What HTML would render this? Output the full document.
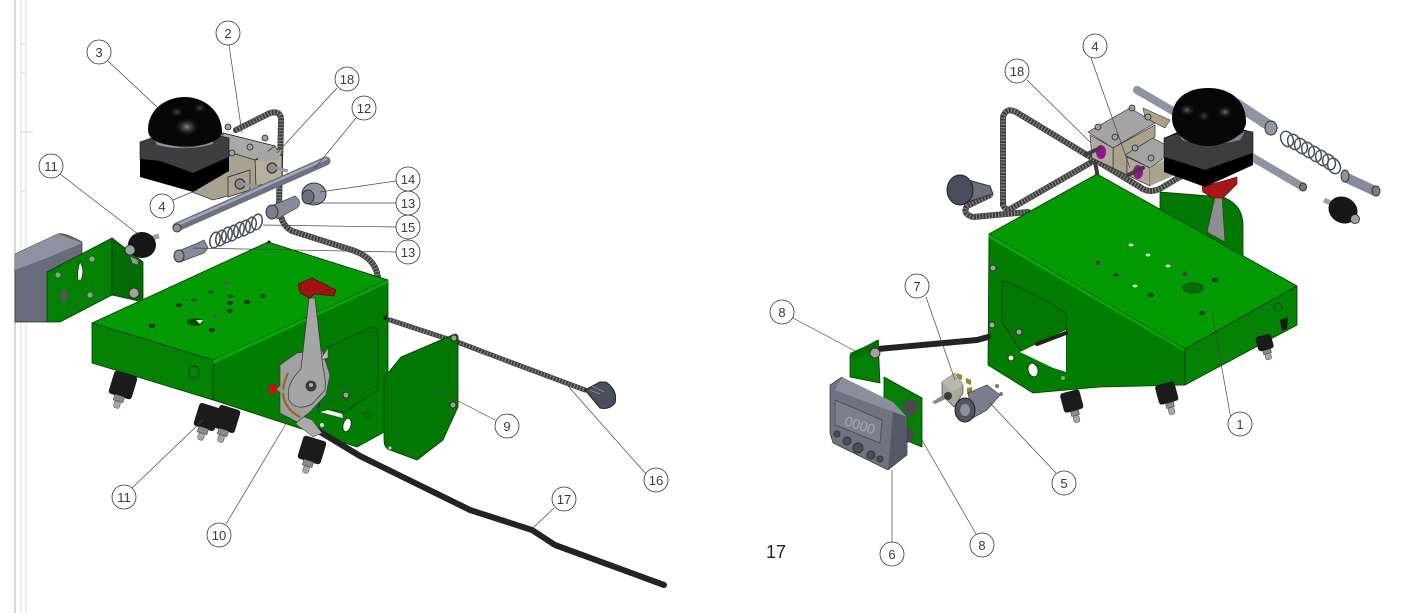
<!DOCTYPE html>
<html><head><meta charset="utf-8"><style>
html,body{margin:0;padding:0;background:#fff}
svg{display:block}
text{font-family:"Liberation Sans",sans-serif;font-size:13px;fill:#3a3a3a;text-anchor:middle}
.b circle{fill:#fff;stroke:#333;stroke-width:.8}
.l{stroke:#444;stroke-width:.7;fill:none}
.e{stroke:#013a01;stroke-width:.8;stroke-linejoin:round}
.c1{fill:none;stroke:#3e3e3e;stroke-width:6;stroke-linecap:round;stroke-linejoin:round}
.c2{fill:none;stroke:#858585;stroke-width:5;stroke-dasharray:1.2 2}
.k{fill:none;stroke:#232323;stroke-width:6;stroke-linecap:round;stroke-linejoin:round}
.s{fill:none;stroke:#4a4e5c;stroke-width:1.5}
.h{fill:#04340a}
.ft{fill:#1b1b1b}.bt{fill:#a4a8b6;stroke:#444;stroke-width:.5}.nt{fill:#8b8b8b;stroke:#333;stroke-width:.5}
.nut{fill:#a0a0a0;stroke:#222;stroke-width:.8}
</style></head><body>
<svg width="1405" height="613" viewBox="0 0 1405 613" xmlns="http://www.w3.org/2000/svg">
<defs>
<radialGradient id="hl" cx=".5" cy=".5" r=".5"><stop offset="0" stop-color="#8a8a8a"/><stop offset="1" stop-color="#000" stop-opacity="0"/></radialGradient>
</defs>
<rect width="1405" height="613" fill="#fff"/>
<path d="M15 0V613" stroke="#c9c9c9" stroke-width="1.5" fill="none"/>
<path d="M21 0V613M26 0V613" stroke="#dcdcdc" stroke-width="1" fill="none"/>
<path d="M21 44H26M21 73H26M21 132H33M21 191H26" stroke="#d4d4d4" fill="none"/>

<!-- LEFT ASSEMBLY -->
<!-- conduit upper -->
<path class="c1" d="M236 130L270 113Q282 110 281 122L279 205Q280 225 292 231L352 250Q376 258 378 278"/>
<path class="c2" d="M236 130L270 113Q282 110 281 122L279 205Q280 225 292 231L352 250Q376 258 378 278"/>
<!-- blocks -->
<path d="M223 133L275 146L282 157V180L262 187L250 190L213 200L192 192L190 160Z" fill="#a8a390" stroke="#333" stroke-width=".7"/>
<path d="M223 133L275 146L255 160L222 150Z" fill="#a9a9a9" stroke="#222" stroke-width=".7"/>
<path d="M255 160L282 155L282 180L256 186Z" fill="#b5b09f" stroke="#222" stroke-width=".7"/>
<path d="M228 177L250 170L250 190L228 197Z" fill="#aaa593" stroke="#222" stroke-width=".7"/>
<path d="M258 152L282 150L278 160L258 162Z" fill="#a4a4a4"/>
<circle cx="272" cy="168" r="5" fill="#8e8e8e" stroke="#222"/><circle cx="240" cy="184" r="5" fill="#8e8e8e" stroke="#222"/>
<path d="M276 168L288 171M243 184L258 187" stroke="#999" stroke-width="3"/>
<circle cx="228" cy="127" r="3" class="nut"/><circle cx="250" cy="147" r="3" class="nut"/><circle cx="265" cy="138" r="3" class="nut"/><circle cx="232" cy="153" r="3" class="nut"/>
<!-- dome assembly -->
<path d="M140 142L180 128L229 138V171L193 192L140 177Z" fill="#000"/>
<path d="M140 142L180 128L229 138V157L193 173L160 161L140 159Z" fill="#3e3e3e" stroke="#111" stroke-width=".6"/>
<path d="M154 138Q185 156 213 140L213 144Q185 152 157 145Z" fill="#8d91a0"/>
<path d="M148 130C148 110 165 97 185 97C205 97 222 112 222 132C222 140 205 147 185 146C165 146 148 142 148 130Z" fill="#060606"/>
<ellipse cx="187" cy="127" rx="13" ry="10" fill="url(#hl)"/><ellipse cx="177" cy="112" rx="8" ry="6" fill="url(#hl)" opacity=".5"/><ellipse cx="200" cy="108" rx="8" ry="6" fill="url(#hl)" opacity=".5"/>
<!-- rod -->
<path d="M177 227L326 161" stroke="#6d7181" stroke-width="9" stroke-linecap="round"/>
<path d="M177 225L326 159" stroke="#a4a8b6" stroke-width="2.5" stroke-linecap="round"/>
<ellipse cx="177" cy="228" rx="4" ry="4" fill="#8c909f" stroke="#333"/>
<!-- 14 nut -->
<ellipse cx="314" cy="194" rx="12" ry="11" fill="#8f93a2" stroke="#333"/><ellipse cx="308" cy="197" rx="6" ry="7" fill="#6d7181" stroke="#333"/>
<!-- bushing 13 upper -->
<path d="M271 206L295 196Q303 202 297 208L277 219Z" fill="#868a9a" stroke="#444" stroke-width=".7"/>
<ellipse cx="272" cy="212" rx="6" ry="7" fill="#7a7e8c" stroke="#333"/>
<!-- spring -->
<g class="s"><ellipse cx="215" cy="240" rx="5" ry="8" transform="rotate(15 215 240)"/><ellipse cx="221" cy="238" rx="5" ry="8" transform="rotate(15 221 238)"/><ellipse cx="227" cy="235" rx="5" ry="8" transform="rotate(15 227 235)"/><ellipse cx="233" cy="233" rx="5" ry="8" transform="rotate(15 233 233)"/><ellipse cx="239" cy="230" rx="5" ry="8" transform="rotate(15 239 230)"/><ellipse cx="245" cy="228" rx="5" ry="8" transform="rotate(15 245 228)"/><ellipse cx="251" cy="225" rx="5" ry="8" transform="rotate(15 251 225)"/><ellipse cx="257" cy="222" rx="5" ry="8" transform="rotate(15 257 222)"/></g>
<!-- bushing 13 lower -->
<path d="M176 252L198 243L204 240L208 248L204 253L180 262Z" fill="#868a9a" stroke="#444" stroke-width=".7"/>
<ellipse cx="179" cy="256" rx="5" ry="6" fill="#8c909f" stroke="#333"/>
<!-- device left -->
<path d="M15 254L58 234Q64 232 82 242V262L83 300L47 322H15Z" fill="#686b7a" stroke="#333" stroke-width=".7"/>
<path d="M15 254L58 234L82 243L47 258L15 270Z" fill="#8f92a0"/>
<!-- bracket -->
<path d="M47 272L112 238V295L60 322H47Z" fill="#048004" class="e"/>
<path d="M112 238L143 262V302L112 295Z" fill="#036b03" class="e"/>
<path d="M80 262Q85 270 81 280L78 280Q77 270 80 262Z" fill="#fff" stroke="#222" stroke-width=".6"/>
<ellipse cx="64" cy="295" rx="4" ry="6" fill="#555"/><circle cx="58" cy="275" r="2.5" fill="#999"/><circle cx="92" cy="259" r="2.5" fill="#999"/><circle cx="90" cy="295" r="2.5" fill="#999"/>
<circle cx="134" cy="293" r="5" class="nut"/>
<!-- mount 11 top -->
<path d="M152 238L159 236" stroke="#9da1af" stroke-width="5"/>
<ellipse cx="142" cy="245" rx="14" ry="13" fill="#171717"/>
<circle cx="130" cy="250" r="5" class="nut"/><path d="M130 256L138 260V265L132 263Z" fill="#999" stroke="#333" stroke-width=".5"/>
<!-- green main box -->
<path d="M92 323L268 242L388 280L213 360Z" fill="#049a04" class="e"/>
<path d="M92 323L213 360V400L92 363Z" fill="#038203" class="e"/>
<path d="M213 360L388 280V430L357 447L213 400Z" fill="#027d02" class="e"/>
<path d="M213 360L388 280L388 283L213 364Z" fill="#05a805"/>
<ellipse cx="194" cy="372" rx="5" ry="6" fill="none" stroke="#024402"/>
<circle cx="269" cy="242" r="1.5" fill="#111"/>
<!-- holes top -->
<ellipse cx="195" cy="322" rx="8" ry="4" fill="#024f02"/><path d="M196 320h7l-3 4z" fill="#fff"/>
<ellipse cx="152" cy="326" rx="3" ry="2" class="h"/><ellipse cx="179" cy="305" rx="3" ry="2" class="h"/><ellipse cx="212" cy="330" rx="3" ry="2" class="h"/><ellipse cx="230" cy="303" rx="3" ry="2" class="h"/><ellipse cx="231" cy="296" rx="3" ry="1.5" fill="#024f02"/><ellipse cx="194" cy="300" rx="3" ry="1.5" fill="#024f02"/><ellipse cx="211" cy="292" rx="3" ry="1.5" fill="#024f02"/><ellipse cx="230" cy="311" rx="3" ry="2" class="h"/><ellipse cx="263" cy="296" rx="3" ry="2" fill="#024f02"/><ellipse cx="247" cy="302" rx="3" ry="2" class="h"/><circle cx="226" cy="283" r="2" fill="#555"/><circle cx="215" cy="316" r="2" fill="#555"/>
<!-- cutout on right face -->
<path d="M328 347L372 327Q379 327 378 335V390L345 412L330 410L318 412Z" fill="#027702" stroke="#013a01" stroke-width=".8"/>
<path d="M320 412L343 418L342 414L328 410Z" fill="#fff"/>
<ellipse cx="347" cy="425" rx="4" ry="7" fill="#fff" stroke="#024402" transform="rotate(15 347 425)"/><circle cx="368" cy="415" r="3" fill="none" stroke="#024402"/><circle cx="322" cy="425" r="2" fill="#ddd"/>
<circle cx="346" cy="395" r="3" class="nut"/><circle cx="385" cy="318" r="2" fill="#111"/>
<!-- feet left -->
<g transform="translate(123 385) rotate(17)"><rect class="ft" x="-12" y="-12" width="24" height="24" rx="3"/><rect class="nt" x="-5" y="11" width="10" height="6"/><rect class="bt" x="-3" y="17" width="6" height="7" rx="2"/></g>
<g transform="translate(207 417) rotate(17)"><rect class="ft" x="-11" y="-12" width="22" height="24" rx="3"/><rect class="nt" x="-5" y="11" width="10" height="6"/><rect class="bt" x="-3" y="17" width="6" height="7" rx="2"/></g>
<g transform="translate(227 419) rotate(17)"><rect class="ft" x="-11" y="-12" width="22" height="24" rx="3"/><rect class="nt" x="-5" y="11" width="10" height="6"/><rect class="bt" x="-3" y="17" width="6" height="7" rx="2"/></g>
<g transform="translate(312 450) rotate(17)"><rect class="ft" x="-12" y="-12" width="24" height="24" rx="3"/><rect class="nt" x="-5" y="11" width="10" height="6"/><rect class="bt" x="-3" y="17" width="6" height="7" rx="2"/></g>
<!-- cable right to 16 -->
<path class="c1" d="M390 320L460 343L510 362L585 390" style="stroke-width:5"/>
<path class="c2" d="M390 320L460 343L510 362L585 390" style="stroke-width:4"/>
<!-- grommet 16 -->
<path d="M585 390L600 382L606 382Q618 390 615 403Q610 410 600 408Z" fill="#4a4d5c" stroke="#222"/>
<path d="M590 390L600 394M592 386L604 392" stroke="#7f8391"/>
<!-- panel 9 -->
<path d="M455 334Q459 334 458 342V407L443 440L417 460L390 450Q384 448 384 440V378L401 357Z" fill="#027702" class="e"/>
<circle cx="454" cy="338" r="3" class="nut"/><circle cx="453" cy="405" r="3" class="nut"/><circle cx="390" cy="448" r="1.5" fill="#ddd"/>
<!-- black cable 17 -->
<path class="k" d="M312 427L360 456L470 510L532 530L555 545L664 585"/>
<path d="M300 415L312 420L322 433L313 437L296 424Z" fill="#aaa" stroke="#333" stroke-width=".5"/>
<!-- lever -->
<path d="M280 365L297 353L322 350L330 375L326 395L310 412L297 422L280 413Z" fill="#a0a0a0" stroke="#333" stroke-width=".6"/>
<path d="M288 373Q274 403 300 417" fill="none" stroke="#8c6d14" stroke-width="2.2"/>
<path d="M320 360L328 348V358Z" fill="#bbb" stroke="#333" stroke-width=".5"/>
<path d="M309 298L315 298L323 368Q326 378 325 390L312 404Q296 412 289 400Q285 385 301 369Z" fill="#a6a6a6" stroke="#333" stroke-width=".7"/>
<circle cx="311" cy="386" r="5.5" fill="#3a3a3a"/><circle cx="311" cy="385" r="2" fill="#aaa"/>
<path d="M298 284L312 278L336 290L334 296L314 294L310 298L300 293Z" fill="#9e1212" stroke="#400" stroke-width=".6"/>
<circle cx="273" cy="389" r="5" fill="#c0141e"/><path d="M278 388L284 392" stroke="#999" stroke-width="4"/>

<!-- RIGHT ASSEMBLY -->
<!-- back panel -->
<path d="M1160 192L1223 197Q1243 205 1243 225V260L1160 215Z" fill="#027702" class="e"/>
<!-- rods -->
<path d="M1137 90L1303 187" stroke="#8f93a2" stroke-width="8" stroke-linecap="round"/>
<ellipse cx="1303" cy="187" rx="3.5" ry="4" fill="#777" stroke="#333"/>
<path d="M1235 103L1270 126" stroke="#8f93a2" stroke-width="11"/>
<ellipse cx="1271" cy="128" rx="6" ry="7" fill="#9296a5" stroke="#333"/>
<!-- conduit right -->
<path class="c1" d="M1003 205L1003 117Q1006 107 1016 112L1140 187Q1150 195 1163 187L1183 175"/>
<path class="c2" d="M1003 205L1003 117Q1006 107 1016 112L1140 187Q1150 195 1163 187L1183 175"/>
<path class="c1" d="M1003 205Q1006 212 1012 208L1090 163"/><path class="c2" d="M1003 205Q1006 212 1012 208L1090 163"/>
<path class="c1" d="M1028 212L973 217Q962 214 967 206L990 195L988 188"/>
<path class="c2" d="M1028 212L973 217Q962 214 967 206L990 195L988 188"/>
<!-- grommet -->
<path d="M968 180L990 186L993 194L968 202Z" fill="#6b6e7d" stroke="#333"/><ellipse cx="960" cy="190" rx="13" ry="15" fill="#4a4d5c" stroke="#222"/>
<!-- blocks -->
<path d="M1143 108L1170 120L1165 128L1145 118Z" fill="#a9a38e" stroke="#333" stroke-width=".6"/>
<path d="M1113 148L1155 125V137L1127 157V175L1113 168Z" fill="#a9a38e" stroke="#333" stroke-width=".7"/>
<path d="M1088 132L1130 108L1155 123L1113 148Z" fill="#a4a4a4" stroke="#333" stroke-width=".7"/>
<path d="M1090 135L1113 148V168L1092 158Z" fill="#b0ab98" stroke="#333" stroke-width=".7"/>
<path d="M1125 155L1153 138L1175 150L1150 168Z" fill="#a4a4a4" stroke="#333" stroke-width=".7"/>
<path d="M1127 157L1150 168V186L1127 175Z" fill="#b0ab98" stroke="#333" stroke-width=".7"/>
<path d="M1150 168L1175 153V175L1150 186Z" fill="#a9a38e"/>
<ellipse cx="1101" cy="152" rx="5" ry="7" fill="#9a109a"/><ellipse cx="1138" cy="172" rx="5" ry="7" fill="#9a109a"/>
<circle cx="1098" cy="127" r="3" class="nut"/><circle cx="1115" cy="137" r="3" class="nut"/><circle cx="1132" cy="108" r="3" class="nut"/><circle cx="1148" cy="117" r="3" class="nut"/><circle cx="1135" cy="148" r="3" class="nut"/><circle cx="1151" cy="158" r="3" class="nut"/>
<path class="c1" d="M1085 155L1100 148M1128 175L1143 168" style="stroke-width:4"/>
<path class="c1" d="M1095 163L1097 172V175" style="stroke-width:4"/>
<!-- red handle & lever -->
<path d="M1207 232L1215 197H1222L1225 242Z" fill="#8e8e8e" stroke="#333" stroke-width=".6"/>
<path d="M1202 187L1237 177L1237 184L1223 198H1213L1203 192Z" fill="#a81818" stroke="#400" stroke-width=".6"/>
<!-- dome -->
<path d="M1164 138L1205 120L1253 132V165L1205 187L1164 172Z" fill="#000"/>
<path d="M1164 138L1205 125L1253 132V153L1205 170L1164 157Z" fill="#3d3d3d" stroke="#111" stroke-width=".6"/>
<path d="M1178 132Q1210 152 1245 132L1240 140Q1210 148 1182 140Z" fill="#7f8392"/>
<path d="M1172 118C1172 98 1188 88 1208 88C1230 88 1246 100 1246 122C1246 135 1225 146 1208 146C1190 146 1172 135 1172 118Z" fill="#060606"/>
<ellipse cx="1187" cy="110" rx="9" ry="7" fill="url(#hl)" opacity=".7"/><ellipse cx="1225" cy="112" rx="9" ry="7" fill="url(#hl)" opacity=".8"/><ellipse cx="1204" cy="116" rx="7" ry="6" fill="url(#hl)" opacity=".5"/>
<!-- spring right -->
<g class="s"><ellipse cx="1287" cy="139" rx="6" ry="8" transform="rotate(-25 1287 139)"/><ellipse cx="1294" cy="142" rx="6" ry="8" transform="rotate(-25 1294 142)"/><ellipse cx="1301" cy="146" rx="6" ry="8" transform="rotate(-25 1301 146)"/><ellipse cx="1308" cy="150" rx="6" ry="8" transform="rotate(-25 1308 150)"/><ellipse cx="1315" cy="154" rx="6" ry="8" transform="rotate(-25 1315 154)"/><ellipse cx="1322" cy="158" rx="6" ry="8" transform="rotate(-25 1322 158)"/><ellipse cx="1329" cy="162" rx="6" ry="8" transform="rotate(-25 1329 162)"/><ellipse cx="1334" cy="166" rx="6" ry="8" transform="rotate(-25 1334 166)"/></g>
<!-- bushing -->
<path d="M1347 178L1375 191" stroke="#868a9a" stroke-width="10"/><ellipse cx="1345" cy="176" rx="4" ry="6" fill="#8c909f" stroke="#333"/><ellipse cx="1376" cy="191" rx="4" ry="5" fill="#7a7e8c" stroke="#333"/>
<!-- mount -->
<path d="M1324 200L1333 204" stroke="#9da1af" stroke-width="5"/><ellipse cx="1343" cy="210" rx="15" ry="13" fill="#171717" transform="rotate(30 1343 210)"/><circle cx="1355" cy="219" r="4.5" class="nut"/>
<!-- green box right -->
<path d="M989 234L1097 174L1297 286L1185 349Z" fill="#049a04" class="e"/>
<path d="M989 234L1185 349V385L1100 387L1033 393L988 365Z" fill="#027d02" class="e"/>
<path d="M989 234L1185 349L1185 352L989 238Z" fill="#05a805"/>
<path d="M1185 349L1297 286V325L1185 385Z" fill="#038203" class="e"/>
<path d="M1002 280Q1040 295 1066 313V372L1053 368L1020 350L1002 322Z" fill="#027702" stroke="#013a01" stroke-width=".8"/>
<path d="M1020 352L1066 330V372L1053 368Z" fill="#fff"/>
<path class="k" d="M1037 344L1066 333" style="stroke-width:4"/>
<ellipse cx="1033" cy="370" rx="5" ry="7" fill="#fff" stroke="#024402" transform="rotate(-15 1033 370)"/><circle cx="1011" cy="358" r="3" fill="#fff" stroke="#024402"/><circle cx="1063" cy="378" r="2" fill="#999"/><circle cx="1019" cy="332" r="3" class="nut"/><circle cx="993" cy="268" r="3" class="nut"/><circle cx="992" cy="325" r="3" class="nut"/>
<ellipse cx="1193" cy="288" rx="10" ry="5" fill="#036f03" stroke="#024402"/><ellipse cx="1131" cy="245" rx="2.5" ry="1.5" fill="#ddd"/><ellipse cx="1148" cy="255" rx="2.5" ry="1.5" fill="#ddd"/><ellipse cx="1168" cy="266" rx="2.5" ry="1.5" fill="#ddd"/><ellipse cx="1135" cy="286" rx="2.5" ry="1.5" fill="#ddd"/><ellipse cx="1116" cy="275" rx="3" ry="1.5" class="h"/><ellipse cx="1151" cy="295" rx="3" ry="2" class="h"/><ellipse cx="1215" cy="280" rx="3" ry="2" class="h"/><ellipse cx="1202" cy="313" rx="3" ry="2" class="h"/><circle cx="1098" cy="263" r="2.5" fill="#444"/><circle cx="1185" cy="274" r="2.5" fill="#444"/>
<circle cx="1278" cy="307" r="4" fill="none" stroke="#024402"/>
<!-- feet right -->
<g transform="translate(1072 402) rotate(-15)"><rect class="ft" x="-10" y="-11" width="20" height="20" rx="3"/><rect class="nt" x="-4" y="9" width="8" height="5"/><rect class="bt" x="-3" y="14" width="6" height="7" rx="2"/></g>
<g transform="translate(1167 394) rotate(-15)"><rect class="ft" x="-10" y="-11" width="20" height="20" rx="3"/><rect class="nt" x="-4" y="9" width="8" height="5"/><rect class="bt" x="-3" y="14" width="6" height="7" rx="2"/></g>
<g transform="translate(1265 344) rotate(-15)"><rect class="ft" x="-8" y="-9" width="16" height="15" rx="3"/><rect class="nt" x="-4" y="6" width="8" height="4"/><rect class="bt" x="-3" y="10" width="6" height="6" rx="2"/></g>
<path d="M1280 320L1288 317L1287 329L1282 331Z" fill="#1a1a1a"/>
<!-- black cable right -->
<path class="k" d="M878 349L977 340L988 337"/>
<!-- bracket 8 upper -->
<path d="M850 355L878 340L880 383L850 377Z" fill="#048004" class="e"/>
<path d="M850 353L879 340V347L855 360Z" fill="#037003"/>
<circle cx="875" cy="353" r="5" class="nut"/>
<!-- bracket 8 lower -->
<path d="M884 377L922 398V447L905 440L884 424Z" fill="#048004" class="e"/>
<path d="M903 401Q918 398 918 405L916 415L904 415Z" fill="#4a4a4a"/><path d="M905 428Q916 428 914 436L911 442L905 443Z" fill="#4a4a4a"/>
<!-- meter -->
<path d="M830 385L842 377L893 412L907 417V455L888 470L833 443L830 433Z" fill="#6f7281" stroke="#333" stroke-width=".7"/>
<path d="M842 377L893 402L907 417L893 412L835 390Z" fill="#8b8e9c"/>
<path d="M893 412L907 417V455L888 470Z" fill="#555866"/>
<path d="M835 400L882 420L880 443L835 425Z" fill="#7c7f8e" stroke="#444" stroke-width=".7"/>
<text x="860" y="430" transform="rotate(18 860 425)" style="font-size:14px;fill:#a5a8b4">0000</text>
<circle cx="837" cy="434" r="3" fill="#4a4d5c" stroke="#333"/><circle cx="847" cy="441" r="4" fill="#4a4d5c" stroke="#333"/><circle cx="858" cy="448" r="5" fill="#4a4d5c" stroke="#333"/><circle cx="871" cy="455" r="4" fill="#4a4d5c" stroke="#333"/><circle cx="880" cy="459" r="3" fill="#4a4d5c" stroke="#333"/>
<!-- switch 7 -->
<path d="M942 382L955 373L963 385V393L954 407L942 395Z" fill="#a9a9a0" stroke="#333" stroke-width=".6"/>
<path d="M942 382L955 373L963 385L952 392Z" fill="#b8b8b0"/>
<path d="M932 402L943 395L948 398L935 404Z" fill="#888"/><circle cx="948" cy="396" r="4" fill="#3a3a3a"/>
<path d="M957 373l5 2v5l-5-2zM966 378l5 2v5l-5-2zM967 388l5-1v6l-5 1z" fill="#9b8526"/>
<!-- key switch 5 -->
<path d="M968 393L987 385L1000 395L987 410L973 418Z" fill="#7a7e8c" stroke="#333" stroke-width=".6"/>
<ellipse cx="965" cy="410" rx="10" ry="12" fill="#52555f" stroke="#222"/><ellipse cx="965" cy="410" rx="5" ry="6" fill="#8c909f"/>
<circle cx="1001" cy="394" r="2" fill="#777"/><circle cx="997" cy="386" r="2" fill="#777"/>

<!-- LEADERS -->
<g class="l">
<path d="M108 61L157 107M229 45L242 133M337 88L277 153M356 118L315 168M60 174L138 234M173 200L197 190M396 181L320 192M396 203L313 203M396 227L263 225M396 252L193 248M495 420L427 385M646 474L568 386M554 508L533 528M226 524L290 417M132 488L203 420"/>
<path d="M1091 58L1130 168M1027 80L1090 142M926 297L955 380M793 318L855 351M1056 473L990 403M1231 419L1212 313M976 534L922 440M892 542V470"/>
</g>
<!-- BALLOONS -->
<g class="b">
<circle cx="99" cy="52" r="12"/><text x="99" y="57">3</text>
<circle cx="228" cy="33" r="12"/><text x="228" y="38">2</text>
<circle cx="347" cy="79" r="12"/><text x="347" y="84">18</text>
<circle cx="364" cy="108" r="12"/><text x="364" y="113">12</text>
<circle cx="51" cy="166" r="12"/><text x="51" y="171">11</text>
<circle cx="162" cy="206" r="12"/><text x="162" y="211">4</text>
<circle cx="408" cy="179" r="12"/><text x="408" y="184">14</text>
<circle cx="408" cy="203" r="12"/><text x="408" y="208">13</text>
<circle cx="408" cy="227" r="12"/><text x="408" y="232">15</text>
<circle cx="408" cy="252" r="12"/><text x="408" y="257">13</text>
<circle cx="507" cy="426" r="12"/><text x="507" y="431">9</text>
<circle cx="656" cy="480" r="12"/><text x="656" y="485">16</text>
<circle cx="564" cy="499" r="12"/><text x="564" y="504">17</text>
<circle cx="219" cy="535" r="12"/><text x="219" y="540">10</text>
<circle cx="124" cy="497" r="12"/><text x="124" y="502">11</text>
<circle cx="1095" cy="46" r="12"/><text x="1095" y="51">4</text>
<circle cx="1017" cy="71" r="12"/><text x="1017" y="76">18</text>
<circle cx="917" cy="286" r="12"/><text x="917" y="291">7</text>
<circle cx="782" cy="312" r="12"/><text x="782" y="317">8</text>
<circle cx="1064" cy="483" r="12"/><text x="1064" y="488">5</text>
<circle cx="1240" cy="424" r="12"/><text x="1240" y="429">1</text>
<circle cx="982" cy="545" r="12"/><text x="982" y="550">8</text>
<circle cx="892" cy="554" r="12"/><text x="892" y="559">6</text>
</g>
<text x="776" y="558" style="font-size:18px;fill:#222">17</text>
</svg>
</body></html>
